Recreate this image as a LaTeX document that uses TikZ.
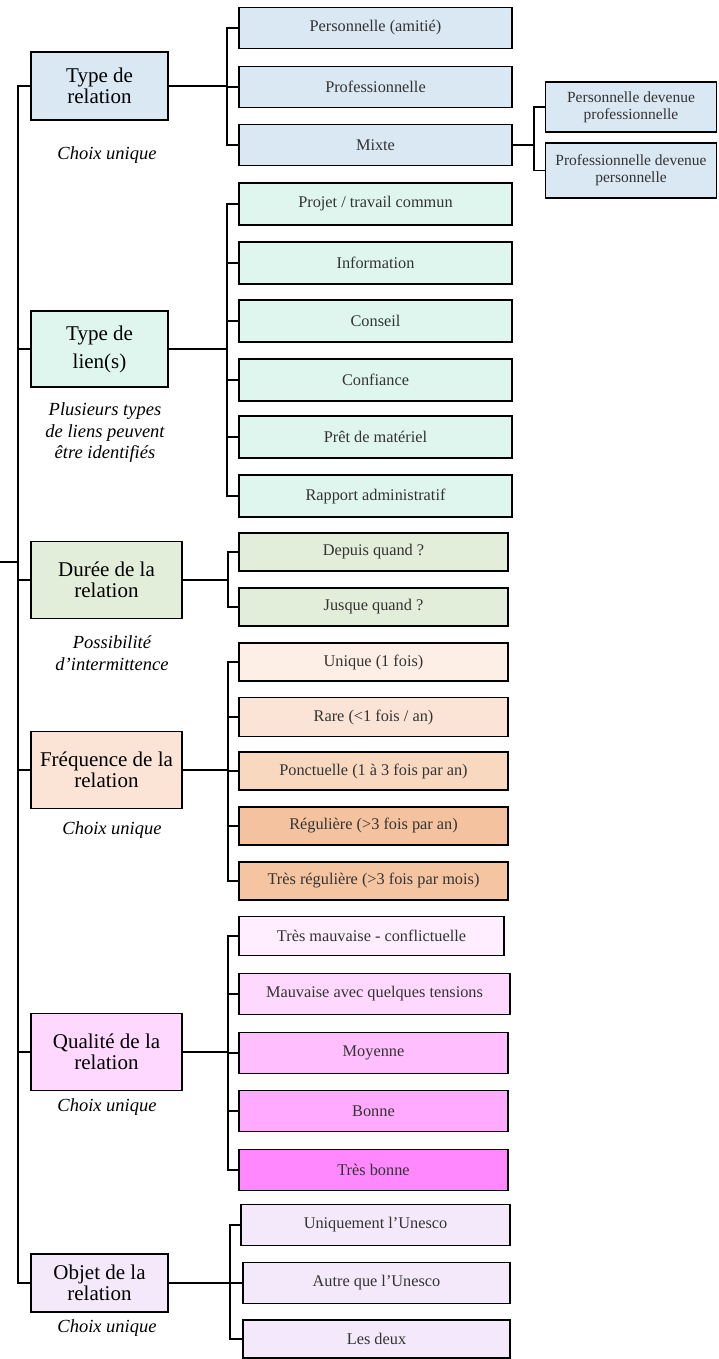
\documentclass[tikz,border=0pt]{standalone}
\usepackage{fontspec}
\setmainfont{Liberation Serif}

\definecolor{relbleu}{HTML}{DAE8F4}
\definecolor{lienvert}{HTML}{DFF6EE}
\definecolor{dureevert}{HTML}{E2EED9}
\definecolor{freqA}{HTML}{FDEFE6}
\definecolor{freqB}{HTML}{FBE4D6}
\definecolor{freqC}{HTML}{F9D8C0}
\definecolor{freqD}{HTML}{F5C29F}
\definecolor{freqE}{HTML}{F5C5A2}
\definecolor{qualA}{HTML}{FFEEFF}
\definecolor{qualB}{HTML}{FFD8FF}
\definecolor{qualC}{HTML}{FFBFFF}
\definecolor{qualD}{HTML}{FFAAFF}
\definecolor{qualE}{HTML}{FF88FF}
\definecolor{objetviolet}{HTML}{F3E9FA}

\begin{document}
\begin{tikzpicture}[x=1pt, y=-1pt]
            \tikzset{categorie/.style = {draw, line width=1.6pt, align=center, minimum height=68pt, inner sep=2pt, font=\fontsize{21}{21}\selectfont}}
            \tikzset{choix/.style = {draw, line width=1.6pt, align=center, minimum width=273pt, minimum height=41pt, inner sep=2pt, text=black!80, font=\fontsize{16.3}{17}\selectfont}}
            \tikzset{note/.style = {align=center, font=\fontsize{18.5}{21.5}\selectfont\itshape}}
            \tikzset{trait/.style = {line width=1.5pt}}

            \useasboundingbox (0,0) rectangle (718,1359);

            % categories
            \node[categorie, fill=relbleu, minimum width=137pt] (rel) at (99.5,86) {Type de\\relation};
            \node[categorie, fill=lienvert, minimum width=137pt, minimum height=76pt, font=\fontsize{21}{28}\selectfont] (lien) at (99.5,349) {Type de\\lien(s)};
            \node[categorie, fill=dureevert, minimum width=151pt, minimum height=77pt] (duree) at (106.5,580) {Durée de la\\relation};
            \node[categorie, fill=freqB, minimum width=151pt, minimum height=77pt] (freq) at (106.5,770) {Fréquence de la\\relation};
            \node[categorie, fill=qualB, minimum width=151pt, minimum height=77pt] (qual) at (106.5,1052) {Qualité de la\\relation};
            \node[categorie, fill=objetviolet, minimum width=137pt, minimum height=58pt] (objet) at (99.5,1283) {Objet de la\\relation};

            \node[note] (noteRel) at (107,155) {Choix unique};
            \node[note] (noteLien) at (105,433) {Plusieurs types\\de liens peuvent\\être identifiés};
            \node[note] (noteDuree) at (112,653) {Possibilité\\d'intermittence};
            \node[note] (noteFreq) at (112,830) {Choix unique};
            \node[note] (noteQual) at (107,1107) {Choix unique};
            \node[note] (noteObjet) at (107,1328) {Choix unique};

            % type de relation
            \node[choix, fill=relbleu] (rel1) at (375.5,28) {Personnelle (amitié)};
            \node[choix, fill=relbleu] (rel2) at (375.5,87) {Professionnelle};
            \node[choix, fill=relbleu] (rel3) at (375.5,145) {Mixte};
            \node[choix, fill=relbleu, minimum width=171pt, minimum height=50pt, font=\fontsize{15.5}{17}\selectfont] (mix1) at (631,107) {Personnelle devenue\\professionnelle};
            \node[choix, fill=relbleu, minimum width=171pt, minimum height=55pt, font=\fontsize{15.5}{17}\selectfont] (mix2) at (631,170.5) {Professionnelle devenue\\personnelle};

            % type de lien(s)
            \node[choix, fill=lienvert, minimum height=42pt] (lien1) at (375.5,204) {Projet / travail commun};
            \node[choix, fill=lienvert, minimum height=42pt] (lien2) at (375.5,263) {Information};
            \node[choix, fill=lienvert, minimum height=42pt] (lien3) at (375.5,321) {Conseil};
            \node[choix, fill=lienvert, minimum height=42pt] (lien4) at (375.5,380) {Confiance};
            \node[choix, fill=lienvert, minimum height=42pt] (lien5) at (375.5,437) {Prêt de matériel};
            \node[choix, fill=lienvert, minimum height=42pt] (lien6) at (375.5,496) {Rapport administratif};

            % duree
            \node[choix, fill=dureevert, minimum width=269pt, minimum height=38pt] (duree1) at (373.5,552) {Depuis quand ?};
            \node[choix, fill=dureevert, minimum width=269pt, minimum height=38pt] (duree2) at (373.5,607) {Jusque quand ?};

            % frequence
            \node[choix, fill=freqA, minimum width=269pt, minimum height=38pt] (freq1) at (373.5,662) {Unique (1 fois)};
            \node[choix, fill=freqB, minimum width=269pt, minimum height=39pt] (freq2) at (373.5,717) {Rare (<1 fois / an)};
            \node[choix, fill=freqC, minimum width=269pt, minimum height=38pt] (freq3) at (373.5,771) {Ponctuelle (1 à 3 fois par an)};
            \node[choix, fill=freqD, minimum width=269pt, minimum height=38pt] (freq4) at (373.5,826) {Régulière (>3 fois par an)};
            \node[choix, fill=freqE, minimum width=269pt, minimum height=38pt] (freq5) at (373.5,881) {Très régulière (>3 fois par mois)};

            % qualite
            \node[choix, fill=qualA, minimum width=265pt, minimum height=39pt] (qual1) at (371.5,936) {Très mauvaise - conflictuelle};
            \node[choix, fill=qualB, minimum width=271pt] (qual2) at (374.5,994) {Mauvaise avec quelques tensions};
            \node[choix, fill=qualC, minimum width=269pt] (qual3) at (373.5,1053) {Moyenne};
            \node[choix, fill=qualD, minimum width=269pt] (qual4) at (373.5,1111) {Bonne};
            \node[choix, fill=qualE, minimum width=269pt] (qual5) at (373.5,1170) {Très bonne};

            % objet
            \node[choix, fill=objetviolet, minimum width=269pt] (objet1) at (375.5,1225) {Uniquement l'Unesco};
            \node[choix, fill=objetviolet, minimum width=267pt] (objet2) at (376.5,1283) {Autre que l'Unesco};
            \node[choix, fill=objetviolet, minimum width=267pt, minimum height=38pt] (objet3) at (376.5,1339) {Les deux};

            % tronc
            \coordinate (tronc) at (18,0);
            \coordinate (racine) at (0,562);
            \draw[trait] (rel.west) -| (tronc |- objet.west) -- (objet.west);
            \draw[trait] (lien.west) -- (lien.west -| tronc);
            \draw[trait] (duree.west) -- (duree.west -| tronc);
            \draw[trait] (freq.west) -- (freq.west -| tronc);
            \draw[trait] (qual.west) -- (qual.west -| tronc);
            \draw[trait] (racine) -- (racine -| tronc);

            % branches
            \draw[trait] (rel.east) -- ++(58,0) |- (rel1.west);
            \draw[trait] (rel.east) -- ++(58,0) |- (rel2.west);
            \draw[trait] (rel.east) -- ++(58,0) |- (rel3.west);
            \draw[trait] (rel3.east) -- ++(21,0) |- (mix1.west);
            \draw[trait] (rel3.east) -- ++(21,0) |- (mix2.west);

            \draw[trait] (lien.east) -- ++(58,0) |- (lien1.west);
            \draw[trait] (lien.east) -- ++(58,0) |- (lien2.west);
            \draw[trait] (lien.east) -- ++(58,0) |- (lien3.west);
            \draw[trait] (lien.east) -- ++(58,0) |- (lien4.west);
            \draw[trait] (lien.east) -- ++(58,0) |- (lien5.west);
            \draw[trait] (lien.east) -- ++(58,0) |- (lien6.west);

            \draw[trait] (duree.east) -- ++(45,0) |- (duree1.west);
            \draw[trait] (duree.east) -- ++(45,0) |- (duree2.west);

            \draw[trait] (freq.east) -- ++(45,0) |- (freq1.west);
            \draw[trait] (freq.east) -- ++(45,0) |- (freq2.west);
            \draw[trait] (freq.east) -- ++(45,0) |- (freq3.west);
            \draw[trait] (freq.east) -- ++(45,0) |- (freq4.west);
            \draw[trait] (freq.east) -- ++(45,0) |- (freq5.west);

            \draw[trait] (qual.east) -- ++(45,0) |- (qual1.west);
            \draw[trait] (qual.east) -- ++(45,0) |- (qual2.west);
            \draw[trait] (qual.east) -- ++(45,0) |- (qual3.west);
            \draw[trait] (qual.east) -- ++(45,0) |- (qual4.west);
            \draw[trait] (qual.east) -- ++(45,0) |- (qual5.west);

            \draw[trait] (objet.east) -- ++(61,0) |- (objet1.west);
            \draw[trait] (objet.east) -- ++(61,0) |- (objet2.west);
            \draw[trait] (objet.east) -- ++(61,0) |- (objet3.west);
        \end{tikzpicture}
\end{document}
